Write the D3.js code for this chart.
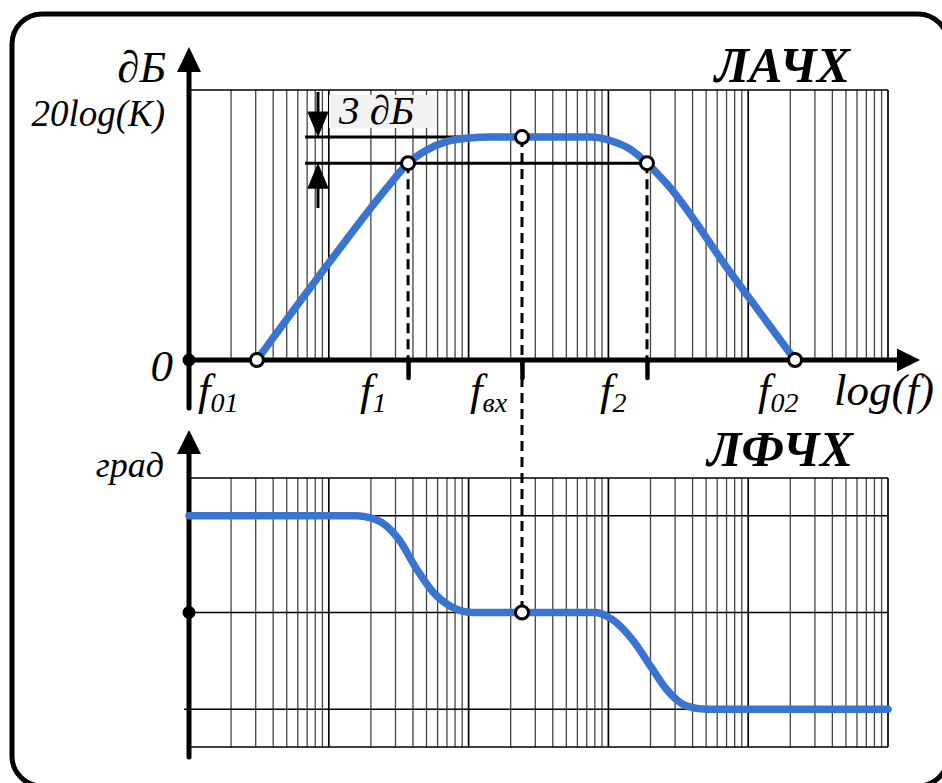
<!DOCTYPE html>
<html>
<head>
<meta charset="utf-8">
<script src="https://cdn.jsdelivr.net/npm/d3@7"></script>
<style>
  html, body { margin: 0; padding: 0; background: #fff; }
  svg { display: block; }
  text { font-family: "Liberation Serif", "Times New Roman", serif; font-style: italic; fill: #000; }
</style>
</head>
<body>
<div id="chart"></div>
<script>
// frequency range of the log grid (5 decades)
const freqDomain = [1, 100000];

// LAChH (amplitude, dB) curve
const lachFreq = [3.06, 9.55, 27.4, 36.9, 48.8, 70.1, 102.3, 142.3, 738, 1028, 1430, 1888, 2626, 7413, 21620];
const lachDb   = [0, 10.7, 20.2, 22.6, 24.0, 25.1, 25.5, 25.6, 25.6, 25.2, 24.2, 22.6, 20.2, 10.1, 0];

// marked points: f01, f1, fвх, f2, f02
const markFreq = [3.06, 36.9, 241, 1888, 21620];
const markDb   = [0, 22.6, 25.6, 22.6, 0];
const markNames = ["01", "1", "вх", "2", "02"];

// 3 dB levels
const levelsDb = [25.6, 22.6];
const levelStart = 6.77;
const levelEnd = [241, 1888];
const arrowFreq = 8.37;

// LFChH (phase, degrees) curve
const lfchFreq = [1, 15.4, 22.1, 31.3, 42.7, 55.6, 73.6, 105.7, 802, 1079, 1500, 2051, 2626, 3648, 5072, 100000];
const lfchDeg  = [90, 90, 86, 69, 40, 19, 6, 0, 0, -7, -26, -52, -72, -87, -90, -90];
const phaseGrid = [90, 0, -90];
const phasePoint = [241, 0];

const W = 942, H = 783;
const blue = "#3874d0";

const svg = d3.select("#chart").append("svg")
  .attr("width", W).attr("height", H)
  .attr("viewBox", `0 0 ${W} ${H}`);

// frame
svg.append("rect")
  .attr("x", 12).attr("y", 14).attr("width", 936).attr("height", 772)
  .attr("rx", 30).attr("fill", "none").attr("stroke", "#000").attr("stroke-width", 5);

const x = d3.scaleLog().domain(freqDomain).range([189, 888]);
const yDb = d3.scaleLinear().domain([0, 31]).range([360, 90]);
const yPh = d3.scaleLinear().domain([-125, 125]).range([747, 478]);

const gridTicks = x.ticks();
const isDecade = f => Math.abs(Math.log10(f) - Math.round(Math.log10(f))) < 1e-9;

// ---------- top panel grid ----------
const gTop = svg.append("g");
gTop.selectAll("line.v").data(gridTicks).join("line")
  .attr("x1", d => x(d)).attr("x2", d => x(d))
  .attr("y1", yDb(31)).attr("y2", yDb(0))
  .attr("stroke", d => isDecade(d) ? "#000" : "#444")
  .attr("stroke-width", d => isDecade(d) ? 1.7 : 1.3);
gTop.append("line")
  .attr("x1", x(freqDomain[0])).attr("x2", x(freqDomain[1]))
  .attr("y1", yDb(31)).attr("y2", yDb(31))
  .attr("stroke", "#000").attr("stroke-width", 1.5);

// ---------- bottom panel grid ----------
const gBot = svg.append("g");
gBot.selectAll("line.v").data(gridTicks).join("line")
  .attr("x1", d => x(d)).attr("x2", d => x(d))
  .attr("y1", yPh(125)).attr("y2", yPh(-125))
  .attr("stroke", d => isDecade(d) ? "#000" : "#444")
  .attr("stroke-width", d => isDecade(d) ? 1.7 : 1.3);
gBot.selectAll("line.h").data([125, ...phaseGrid, -125]).join("line")
  .attr("x1", d => d === -90 ? x(freqDomain[0]) - 5 : x(freqDomain[0]))
  .attr("x2", x(freqDomain[1]))
  .attr("y1", d => yPh(d)).attr("y2", d => yPh(d))
  .attr("stroke", "#000").attr("stroke-width", 1.5);

// ---------- 3 dB levels ----------
gTop.selectAll("line.level").data(levelsDb).join("line")
  .attr("x1", x(levelStart)).attr("x2", (d, i) => x(levelEnd[i]))
  .attr("y1", d => yDb(d)).attr("y2", d => yDb(d))
  .attr("stroke", "#000").attr("stroke-width", 3);

// 3 dB label box
svg.append("rect").attr("x", 329).attr("y", 95).attr("width", 107).attr("height", 33)
  .attr("fill", "#f1f1f1");
svg.append("text").attr("x", 339).attr("y", 124).attr("font-size", 41).text("3 ∂Б");

// arrows of the 3 dB span
const ax = x(arrowFreq);
const arrows = svg.append("g").attr("fill", "#000").attr("stroke", "#000");
arrows.append("line").attr("x1", ax).attr("x2", ax).attr("y1", 92).attr("y2", yDb(levelsDb[0]) - 18)
  .attr("stroke-width", 3);
arrows.append("path")
  .attr("d", `M${ax - 10},${yDb(levelsDb[0]) - 25} L${ax + 10},${yDb(levelsDb[0]) - 25} L${ax},${yDb(levelsDb[0]) - 1} Z`)
  .attr("stroke-width", 1);
arrows.append("line").attr("x1", ax).attr("x2", ax).attr("y1", yDb(levelsDb[1]) + 18).attr("y2", 208)
  .attr("stroke-width", 3);
arrows.append("path")
  .attr("d", `M${ax - 10},${yDb(levelsDb[1]) + 25} L${ax + 10},${yDb(levelsDb[1]) + 25} L${ax},${yDb(levelsDb[1]) + 1} Z`)
  .attr("stroke-width", 1);

// ---------- dashed drop lines ----------
const dash = svg.append("g").attr("stroke", "#000").attr("stroke-width", 3).attr("stroke-dasharray", "10,6");
dash.append("line").attr("x1", x(markFreq[1])).attr("x2", x(markFreq[1]))
  .attr("y1", yDb(markDb[1])).attr("y2", yDb(0));
dash.append("line").attr("x1", x(markFreq[3])).attr("x2", x(markFreq[3]))
  .attr("y1", yDb(markDb[3])).attr("y2", yDb(0));
dash.append("line").attr("x1", x(markFreq[2])).attr("x2", x(markFreq[2]))
  .attr("y1", yDb(markDb[2])).attr("y2", yPh(phasePoint[1]));

// ---------- axes ----------
const axes = svg.append("g");
axes.append("line").attr("x1", 183).attr("x2", 900).attr("y1", yDb(0)).attr("y2", yDb(0))
  .attr("stroke", "#000").attr("stroke-width", 5);
axes.append("path").attr("d", `M897,${yDb(0) - 11.5} L920,${yDb(0)} L897,${yDb(0) + 11.5} Z`);
const xAxis = d3.axisBottom(x).tickValues([markFreq[1], markFreq[2], markFreq[3]])
  .tickSize(18).tickFormat("");
const gx = axes.append("g").attr("transform", `translate(0,${yDb(0)})`).call(xAxis);
gx.select(".domain").remove();
gx.selectAll(".tick line").attr("stroke", "#000").attr("stroke-width", 4.5).attr("stroke-linecap", "round");

// top y axis
axes.append("line").attr("x1", 189).attr("x2", 189).attr("y1", 408).attr("y2", 66)
  .attr("stroke", "#000").attr("stroke-width", 5).attr("stroke-linecap", "round");
axes.append("path").attr("d", "M177,72 L189,47 L201,72 Z");
axes.append("circle").attr("cx", 189).attr("cy", yDb(0)).attr("r", 6.5);

// bottom y axis
axes.append("line").attr("x1", 189).attr("x2", 189).attr("y1", 757).attr("y2", 450)
  .attr("stroke", "#000").attr("stroke-width", 5).attr("stroke-linecap", "round");
axes.append("path").attr("d", "M177,454 L189,430 L201,454 Z");
axes.append("circle").attr("cx", 189).attr("cy", yPh(0)).attr("r", 6.5);

// ---------- curves ----------
const lineDb = d3.line().x(d => x(d[0])).y(d => yDb(d[1])).curve(d3.curveMonotoneX);
svg.append("path").datum(d3.zip(lachFreq, lachDb))
  .attr("d", lineDb).attr("fill", "none").attr("stroke", blue)
  .attr("stroke-width", 7.5).attr("stroke-linecap", "round");

const linePh = d3.line().x(d => x(d[0])).y(d => yPh(d[1])).curve(d3.curveMonotoneX);
svg.append("path").datum(d3.zip(lfchFreq, lfchDeg))
  .attr("d", linePh).attr("fill", "none").attr("stroke", blue)
  .attr("stroke-width", 7.5).attr("stroke-linecap", "round");

// ---------- markers ----------
svg.selectAll("circle.mark").data(d3.zip(markFreq, markDb)).join("circle")
  .attr("class", "mark")
  .attr("cx", d => x(d[0])).attr("cy", d => yDb(d[1])).attr("r", 6.5)
  .attr("fill", "#fff").attr("stroke", "#000").attr("stroke-width", 3);
svg.append("circle").attr("cx", x(phasePoint[0])).attr("cy", yPh(phasePoint[1])).attr("r", 6.5)
  .attr("fill", "#fff").attr("stroke", "#000").attr("stroke-width", 3);

// ---------- texts ----------
const labelX = [198, 360, 470, 600, 758];
const fl = svg.selectAll("text.fl").data(markNames).join("text")
  .attr("class", "fl")
  .attr("x", (d, i) => labelX[i]).attr("y", 405).attr("font-size", 45);
fl.append("tspan").text("f");
fl.append("tspan").attr("dy", 7).attr("font-size", 28).text(d => d);

svg.append("text").attr("x", 834).attr("y", 405).attr("font-size", 45).text("log(f)");
svg.append("text").attr("x", 173).attr("y", 381).attr("font-size", 45).attr("text-anchor", "end").text("0");
svg.append("text").attr("x", 166).attr("y", 82).attr("font-size", 45).attr("text-anchor", "end").text("∂Б");
svg.append("text").attr("x", 165).attr("y", 126).attr("font-size", 37).attr("text-anchor", "end").text("20log(K)");
svg.append("text").attr("x", 164).attr("y", 477).attr("font-size", 36).attr("text-anchor", "end").text("град");

svg.append("text").attr("x", 850).attr("y", 82).attr("font-size", 50).attr("font-weight", "bold")
  .attr("text-anchor", "end").text("ЛАЧХ");
svg.append("text").attr("x", 853).attr("y", 466).attr("font-size", 50).attr("font-weight", "bold")
  .attr("text-anchor", "end").text("ЛФЧХ");
</script>
</body>
</html>
